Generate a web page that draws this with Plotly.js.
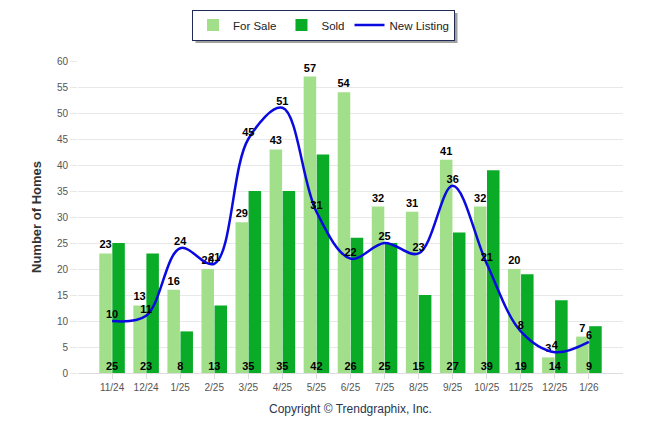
<!DOCTYPE html>
<html>
<head>
<meta charset="utf-8">
<script src="https://cdn.plot.ly/plotly-3.0.1.min.js"></script>
<style>html,body{margin:0;padding:0;background:#fff;}#chart{width:646px;height:434px;}</style>
</head>
<body>
<div id="chart"></div>
<script>
var months = ["11/24","12/24","1/25","2/25","3/25","4/25","5/25","6/25","7/25","8/25","9/25","10/25","11/25","12/25","1/26"];
var forSale = [23,13,16,20,29,43,57,54,32,31,41,32,20,3,7];
var sold = [25,23,8,13,35,35,42,26,25,15,27,39,19,14,9];
var newListing = [10,11,24,21,45,51,31,22,25,23,36,21,8,4,6];
var yTicks = [0,5,10,15,20,25,30,35,40,45,50,55,60];

var fam = "Liberation Sans, Arial, sans-serif";
var labelFont = {family: fam, size: 11, color: "#000", weight: "bold"};

var traces = [
  {
    type: "bar", name: "For Sale", x: months, y: forSale,
    marker: {color: "#a2df8b"},
    text: forSale.map(String), textposition: "outside", constraintext: "none",
    textfont: labelFont, cliponaxis: false, hoverinfo: "skip"
  },
  {
    type: "bar", name: "Sold", x: months, y: sold,
    marker: {color: "#0aab27"},
    hoverinfo: "skip"
  },
  {
    type: "scatter", mode: "lines+text", name: "New Listing", x: months, y: newListing,
    line: {color: "#0a0ae0", width: 2.5, shape: "spline", smoothing: 1},
    text: newListing.map(String), textposition: "top center",
    textfont: labelFont, cliponaxis: false, hoverinfo: "skip"
  },
  {
    type: "scatter", mode: "text", showlegend: false, x: months, y: sold.map(function(){return 0;}),
    text: sold.map(String), textposition: "top center",
    textfont: labelFont, cliponaxis: false, hoverinfo: "skip"
  }
];

var W = 545, H = 312, L = 78, T = 61;
function px(x){return (x-L)/W;}
function py(y){return (T+H-y)/H;}

var layout = {
  width: 646, height: 434,
  margin: {l: L, r: 646-L-W, t: T, b: 434-T-H, autoexpand: false},
  paper_bgcolor: "#fff", plot_bgcolor: "#fff",
  font: {family: fam, color: "#444"},
  barmode: "group", bargap: 0.235, bargroupgap: 0.04,
  showlegend: true,
  legend: {
    orientation: "h", x: px(323.5), xanchor: "center", y: py(25), yanchor: "middle",
    bordercolor: "#1f2a55", borderwidth: 1, bgcolor: "#fff",
    font: {size: 11.5, color: "#222"}, traceorder: "normal",
    itemwidth: 30
  },
  xaxis: {
    type: "category", range: [-1, 15],
    showgrid: false, showline: true, linecolor: "#dddddd", linewidth: 1,
    ticks: "outside", ticklen: 5, tickcolor: "#dddddd",
    tickfont: {size: 10, color: "#555"}, fixedrange: true
  },
  yaxis: {
    range: [0, 60], tickvals: yTicks, ticktext: yTicks.map(String),
    showgrid: true, gridcolor: "#e8e8e8", zeroline: false,
    ticks: "outside", ticklen: 7, tickcolor: "#e8e8e8",
    tickfont: {size: 10, color: "#555"},
    title: {text: "Number of Homes", font: {size: 13, color: "#333", weight: "bold"}, standoff: 12},
    fixedrange: true
  },
  annotations: [
    {xref: "paper", yref: "paper", x: px(350), y: py(409), xanchor: "center", yanchor: "middle",
     text: "Copyright © Trendgraphix, Inc.", showarrow: false,
     font: {size: 12, color: "#2a3550"}}
  ]
};

Plotly.newPlot("chart", traces, layout, {displayModeBar: false, staticPlot: true}).then(function(gd){
  var bg = gd.querySelector(".legend .bg");
  if (bg) {
    var bb = bg.getBoundingClientRect();
    Plotly.relayout(gd, {shapes: [
      {type: "rect", xref: "paper", yref: "paper", layer: "below",
       x0: px(bb.left+3), x1: px(bb.right+3), y0: py(bb.bottom+3), y1: py(bb.top+3),
       fillcolor: "#a0a0a0", line: {width: 0}}
    ]});
  }
});
</script>
</body>
</html>
